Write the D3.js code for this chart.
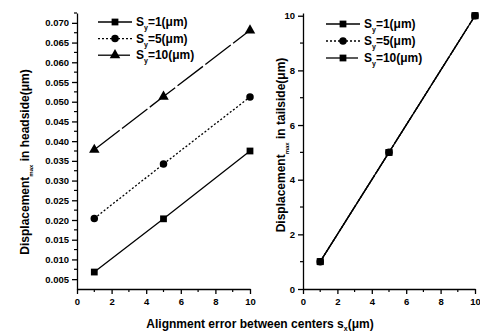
<!DOCTYPE html>
<html>
<head>
<meta charset="utf-8">
<script src="https://cdn.jsdelivr.net/npm/d3@7"></script>
<style>
  body { margin: 0; background: #fff; }
  svg { display: block; font-family: 'Liberation Sans', Arial, sans-serif; }
  .tick text { font-size: 9.5px; font-weight: bold; fill: #000; }
  .domain, .tick line { stroke: #000; stroke-width: 1.3; }
</style>
</head>
<body>
<svg id="chart" width="480" height="334"></svg>
<script>
// x values shared by both panels
const sxValues = [1, 5, 10];

// headside displacement (left panel)
const headSy1 = [0.0068, 0.0203, 0.0375];
const headSy5 = [0.0204, 0.0342, 0.0512];
const headSy10 = [0.0378, 0.0513, 0.0681];

// tailside displacement (right panel) - the three series overlap
const tailSy1 = [1, 5, 10];
const tailSy5 = [1, 5, 10];
const tailSy10 = [1, 5, 10];

const syLabels = ['1', '5', '10'];
const xTicks = [0, 2, 4, 6, 8, 10];
const headTicks = [0.005, 0.010, 0.015, 0.020, 0.025, 0.030, 0.035, 0.040, 0.045, 0.050, 0.055, 0.060, 0.065, 0.070];
const tailTicks = [0, 2, 4, 6, 8, 10];

const svg = d3.select('#chart');

// line styles per series
const dashes = [null, '2,2', '32,3'];

function markerPath(type) {
  if (type === 'circle') return d3.symbol().type(d3.symbolCircle).size(44)();
  if (type === 'triangle') return d3.symbol().type(d3.symbolTriangle).size(48)();
  return d3.symbol().type(d3.symbolSquare).size(46)();
}

function drawPanel(opts) {
  const x = d3.scaleLinear().domain([0, 10]).range([opts.x0, opts.x1]);
  const y = d3.scaleLinear().domain(opts.yDomain).range([289, opts.yTop]);

  // minor ticks
  const minorX = d3.range(1, 10, 2);
  svg.append('g').selectAll('line').data(minorX).enter().append('line')
    .attr('x1', d => x(d)).attr('x2', d => x(d))
    .attr('y1', 289).attr('y2', 292)
    .attr('stroke', '#000').attr('stroke-width', 1.2);
  svg.append('g').selectAll('line').data(opts.minorY).enter().append('line')
    .attr('x1', opts.x0 - 3).attr('x2', opts.x0)
    .attr('y1', d => y(d)).attr('y2', d => y(d))
    .attr('stroke', '#000').attr('stroke-width', 1.2);

  svg.append('g')
    .attr('transform', 'translate(0,289)')
    .call(d3.axisBottom(x).tickValues(xTicks).tickSize(5).tickPadding(4).tickSizeOuter(0));

  svg.append('g')
    .attr('transform', 'translate(' + opts.x0 + ',0)')
    .call(d3.axisLeft(y).tickValues(opts.yTicks).tickFormat(opts.fmt).tickSize(5).tickPadding(3).tickSizeOuter(0));

  const line = d3.line().x((d, i) => x(sxValues[i])).y(d => y(d));

  opts.series.forEach(function (s, k) {
    svg.append('path')
      .datum(s)
      .attr('d', line)
      .attr('fill', 'none')
      .attr('stroke', '#000')
      .attr('stroke-width', 1.3)
      .attr('stroke-dasharray', dashes[k]);
  });
  opts.series.forEach(function (s, k) {
    svg.append('g').selectAll('path').data(s).enter().append('path')
      .attr('d', markerPath(opts.markers[k]))
      .attr('transform', (d, i) => 'translate(' + x(sxValues[i]) + ',' + y(d) + ')')
      .attr('fill', '#000');
  });

  // legend
  const leg = svg.append('g');
  syLabels.forEach(function (lab, k) {
    const ly = opts.legY + k * opts.legStep;
    leg.append('line')
      .attr('x1', opts.legX).attr('x2', opts.legX + 34)
      .attr('y1', ly).attr('y2', ly)
      .attr('stroke', '#000').attr('stroke-width', 1.3)
      .attr('stroke-dasharray', dashes[k]);
    leg.append('path')
      .attr('d', markerPath(opts.markers[k]))
      .attr('transform', 'translate(' + (opts.legX + 17) + ',' + ly + ')');
    const t = leg.append('text')
      .attr('x', opts.legX + 38).attr('y', ly + 4)
      .attr('font-size', 12).attr('font-weight', 'bold');
    t.append('tspan').text('S');
    t.append('tspan').attr('dy', 4).attr('font-size', 7).text('y');
    t.append('tspan').attr('dy', -4).text('=' + lab + '(\u03bcm)');
  });

  // y title
  const yt = svg.append('text')
    .attr('transform', 'translate(' + opts.titleX + ',' + opts.titleY + ') rotate(-90)')
    .attr('text-anchor', 'middle')
    .attr('font-size', 12).attr('font-weight', 'bold');
  yt.append('tspan').text('Displacement');
  yt.append('tspan').attr('dy', 4).attr('font-size', 6).text('max');
  yt.append('tspan').attr('dy', -4).text(' in ' + opts.side + '(\u03bcm)');
}

drawPanel({
  x0: 77, x1: 250, yTop: 13,
  yDomain: [0.0025, 0.0725],
  yTicks: headTicks,
  minorY: d3.range(0.0075, 0.0726, 0.005),
  fmt: d3.format('.3f'),
  series: [headSy1, headSy5, headSy10],
  markers: ['square', 'circle', 'triangle'],
  legX: 98, legY: 22, legStep: 16.6,
  titleX: 29, titleY: 162, side: 'headside'
});

drawPanel({
  x0: 303, x1: 475, yTop: 13,
  yDomain: [0, 10.1],
  yTicks: tailTicks,
  minorY: [1, 3, 5, 7, 9],
  fmt: d3.format('d'),
  series: [tailSy1, tailSy5, tailSy10],
  markers: ['square', 'circle', 'square'],
  legX: 326, legY: 24, legStep: 17,
  titleX: 285, titleY: 145, side: 'tailside'
});

// shared x title
const xt = svg.append('text')
  .attr('x', 260).attr('y', 328)
  .attr('text-anchor', 'middle')
  .attr('font-size', 12).attr('font-weight', 'bold');
xt.append('tspan').text('Alignment error between centers s');
xt.append('tspan').attr('dy', 3).attr('font-size', 7).text('x');
xt.append('tspan').attr('dy', -3).text('(\u03bcm)');
</script>
</body>
</html>
